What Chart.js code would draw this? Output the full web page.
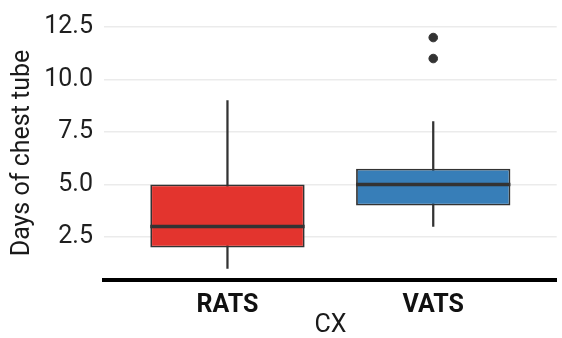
<!DOCTYPE html>
<html>
<head>
<meta charset="utf-8">
<script src="https://cdn.jsdelivr.net/npm/chart.js@4"></script>
<style>
  html, body { margin: 0; padding: 0; background: #fff; }
  #wrap { width: 562px; height: 338px; }
</style>
</head>
<body>
<div id="wrap"><canvas id="myChart" width="562" height="338"></canvas></div>
<script>
// box plot summaries per surgical approach
const groups = ["RATS", "VATS"];
const groupPos = [1, 2];
const lowWhisker = [1, 3];
const q1 = [2, 4];
const median = [3, 5];
const q3 = [5, 5.75];
const highWhisker = [9, 8];
const outlierGroup = [2, 2];
const outlierValue = [11, 12];
const yTicks = [2.5, 5, 7.5, 10, 12.5];
const boxColors = ["#E3342E", "#377EB8"];

const ctx = document.getElementById("myChart");
const ink = "#333333";
const font = "Roboto";

// median bars drawn across each box after the boxes are painted
const medianLines = {
  id: "medianLines",
  afterDatasetsDraw(chart) {
    const meta = chart.getDatasetMeta(1);
    const y = chart.scales.y;
    const c = chart.ctx;
    c.save();
    c.strokeStyle = ink;
    c.lineWidth = 3.5;
    meta.data.forEach((bar, i) => {
      const py = y.getPixelForValue(median[i]);
      c.beginPath();
      c.moveTo(bar.x - bar.width / 2, py);
      c.lineTo(bar.x + bar.width / 2, py);
      c.stroke();
    });
    c.restore();
  },
};

const myChart = new Chart(ctx, {
  type: "bar",
  data: {
    datasets: [
      {
        label: "whisker",
        data: groupPos.map((x, i) => ({ x: x, y: [lowWhisker[i], highWhisker[i]] })),
        backgroundColor: ink,
        barThickness: 1.6,
        grouped: false,
        order: 3,
      },
      {
        label: "box",
        data: groupPos.map((x, i) => ({ x: x, y: [q1[i], q3[i]] })),
        backgroundColor: boxColors,
        borderColor: ink,
        borderWidth: 1.8,
        borderSkipped: false,
        categoryPercentage: 1,
        barPercentage: 0.75,
        grouped: false,
        order: 2,
      },
      {
        type: "scatter",
        label: "outlier",
        data: outlierGroup.map((x, i) => ({ x: x, y: outlierValue[i] })),
        backgroundColor: ink,
        borderColor: ink,
        pointRadius: 4.3,
        order: 1,
      },
    ],
  },
  options: {
    responsive: false,
    animation: false,
    layout: { padding: { top: 24, right: 0, left: 0, bottom: 0 } },
    plugins: { legend: { display: false }, tooltip: { enabled: false } },
    scales: {
      x: {
        type: "linear",
        min: 0.4,
        max: 2.6,
        offset: false,
        afterBuildTicks: (scale) => {
          scale.ticks = groupPos.map((v) => ({ value: v }));
        },
        afterFit: (scale) => {
          scale.height = 58;
        },
        grid: { display: false, drawTicks: false },
        border: { display: true, color: "#000", width: 4 },
        ticks: {
          padding: 11,
          color: "#111",
          font: { family: font, size: 25, weight: "bold" },
          callback: (v) => groups[groupPos.indexOf(v)],
        },
        title: {
          display: true,
          text: "CX",
          color: "#1a1a1a",
          font: { family: font, size: 25, lineHeight: 1 },
          padding: { top: 0, bottom: 0 },
        },
      },
      y: {
        min: 0.45,
        max: 12.55,
        afterBuildTicks: (scale) => {
          scale.ticks = yTicks.map((v) => ({ value: v }));
        },
        afterFit: (scale) => {
          scale.width = 104;
        },
        grid: { color: "#EBEBEB", lineWidth: 1.5, drawTicks: false },
        border: { display: false },
        ticks: {
          padding: 11,
          color: "#1f1f1f",
          font: { family: font, size: 25 },
          callback: (v) => v.toFixed(1),
        },
        title: {
          display: true,
          text: "Days of chest tube",
          color: "#1a1a1a",
          font: { family: font, size: 25, lineHeight: 1 },
          padding: { top: 10, bottom: 0 },
        },
      },
    },
  },
  plugins: [medianLines],
});
</script>
</body>
</html>
